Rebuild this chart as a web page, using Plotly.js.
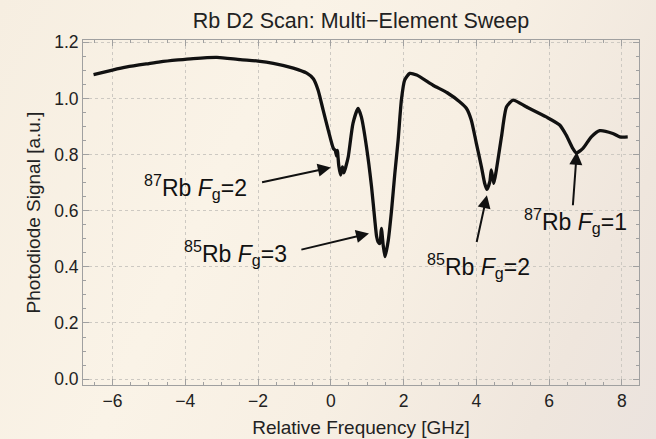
<!DOCTYPE html>
<html>
<head>
<meta charset="utf-8">
<script src="https://cdn.plot.ly/plotly-3.0.1.min.js"></script>
<style>
html, body { margin:0; padding:0; }
body {
  width:656px; height:439px; overflow:hidden;
  background: linear-gradient(115deg, #f6eee1 0%, #faf3e7 35%, #f7efe3 60%, #efe6dd 85%, #ebe3de 100%);
}
#chart { width:656px; height:439px; }
</style>
</head>
<body>
<div id="chart"></div>
<script>
// Relative frequency [GHz]
const freq = [-6.52, -6.0, -5.6, -5.0, -4.69, -4.2, -3.78, -3.13, -2.49, -2.0, -1.58, -1.03, -0.66, -0.48, -0.35, -0.21, -0.07,
  0.07, 0.12, 0.16, 0.18, 0.22, 0.27, 0.32, 0.36, 0.42, 0.48, 0.61, 0.75, 0.84, 0.98, 1.12, 1.21, 1.26, 1.30, 1.35, 1.39, 1.44,
  1.49, 1.58, 1.67, 1.76, 1.85, 1.94, 2.03, 2.17, 2.36, 2.81, 3.2, 3.54, 3.73, 3.86, 4.0, 4.14, 4.23, 4.29, 4.37, 4.41, 4.48,
  4.55, 4.69, 4.83, 5.01, 5.37, 5.92, 6.29, 6.47, 6.65, 6.75, 6.93, 7.16, 7.39, 7.75, 7.94, 8.16];
// Photodiode signal [a.u.]
const signal = [1.085, 1.101, 1.112, 1.124, 1.130, 1.137, 1.142, 1.146, 1.138, 1.133, 1.125, 1.108, 1.090, 1.070, 1.030, 0.958, 0.887,
  0.822, 0.815, 0.795, 0.815, 0.760, 0.727, 0.756, 0.735, 0.760, 0.792, 0.911, 0.964, 0.934, 0.828, 0.685, 0.566, 0.507, 0.489, 0.483, 0.537, 0.477,
  0.436, 0.495, 0.602, 0.733, 0.851, 0.994, 1.065, 1.089, 1.083, 1.047, 1.020, 0.988, 0.964, 0.923, 0.840, 0.756, 0.697, 0.676, 0.703, 0.745, 0.697,
  0.745, 0.863, 0.970, 0.994, 0.970, 0.934, 0.905, 0.869, 0.822, 0.806, 0.822, 0.863, 0.885, 0.875, 0.863, 0.863];

// Annotation labels
const peakLabels = [
  '<sup>87</sup>Rb <i>F</i><sub>g</sub>=2',
  '<sup>85</sup>Rb <i>F</i><sub>g</sub>=3',
  '<sup>85</sup>Rb <i>F</i><sub>g</sub>=2',
  '<sup>87</sup>Rb <i>F</i><sub>g</sub>=1'
];
const xTickVals = [-6, -4, -2, 0, 2, 4, 6, 8];
const yTickVals = [0.0, 0.2, 0.4, 0.6, 0.8, 1.0, 1.2];

const labelPos = [[-3.73, 0.684], [-2.62, 0.449], [4.07, 0.403], [6.73, 0.563]];
const arrowHead = [[0.0, 0.754], [1.05, 0.519], [4.29, 0.655], [6.76, 0.81]];
const arrowTail = [[-1.93, 0.70], [-0.85, 0.46], [4.0, 0.483], [6.65, 0.614]];

const FONT = 'Liberation Sans, Arial, sans-serif';
const annotations = [];
for (let i = 0; i < peakLabels.length; i++) {
  annotations.push({
    x: labelPos[i][0], y: labelPos[i][1], xref: 'x', yref: 'y',
    text: peakLabels[i], showarrow: false,
    font: {family: FONT, size: 23, color: '#111'}
  });
  annotations.push({
    x: arrowHead[i][0], y: arrowHead[i][1], xref: 'x', yref: 'y',
    ax: arrowTail[i][0], ay: arrowTail[i][1], axref: 'x', ayref: 'y',
    text: '', showarrow: true, arrowhead: 2, arrowsize: 1.3, arrowwidth: 2, arrowcolor: '#111', standoff: 0
  });
}

const trace = {
  x: freq, y: signal, type: 'scatter', mode: 'lines',
  line: {color: '#111', width: 3.3, shape: 'spline', smoothing: 0.6},
  hoverinfo: 'skip'
};

const axisCommon = {
  showline: true, linecolor: '#a0a0a0', linewidth: 1, mirror: 'allticks',
  ticks: 'inside', ticklen: 6, tickcolor: '#a0a0a0', tickwidth: 1,
  showgrid: true, gridcolor: '#cdc9c2', griddash: 'dot', gridwidth: 1,
  zeroline: false,
  tickfont: {family: FONT, size: 17.5, color: '#222'}
};

const layout = {
  width: 656, height: 439,
  margin: {l: 83, r: 17, t: 40, b: 54},
  paper_bgcolor: 'rgba(0,0,0,0)', plot_bgcolor: 'rgba(0,0,0,0)',
  showlegend: false,
  title: {text: 'Rb D2 Scan: Multi\u2212Element Sweep', x: 0.5, xref: 'paper', y: 1 - 20/439, yref: 'container', yanchor: 'middle',
    font: {family: FONT, size: 21.5, color: '#222'}},
  xaxis: Object.assign({}, axisCommon, {
    range: [-6.81, 8.47], tickvals: xTickVals,
    minor: {dtick: 0.5, ticks: 'inside', ticklen: 3, tickcolor: '#a0a0a0', showgrid: false},
    title: {text: 'Relative Frequency [GHz]', standoff: 10, font: {family: FONT, size: 19, color: '#222'}},
    automargin: false
  }),
  yaxis: Object.assign({}, axisCommon, {
    range: [-0.021, 1.208], tickvals: yTickVals, tickformat: '.1f',
    minor: {dtick: 0.05, ticks: 'inside', ticklen: 3, tickcolor: '#a0a0a0', showgrid: false},
    title: {text: 'Photodiode Signal [a.u.]', standoff: 8, font: {family: FONT, size: 19, color: '#222'}},
    automargin: false
  }),
  annotations: annotations
};

Plotly.newPlot('chart', [trace], layout, {displayModeBar: false, staticPlot: true});
</script>
</body>
</html>
